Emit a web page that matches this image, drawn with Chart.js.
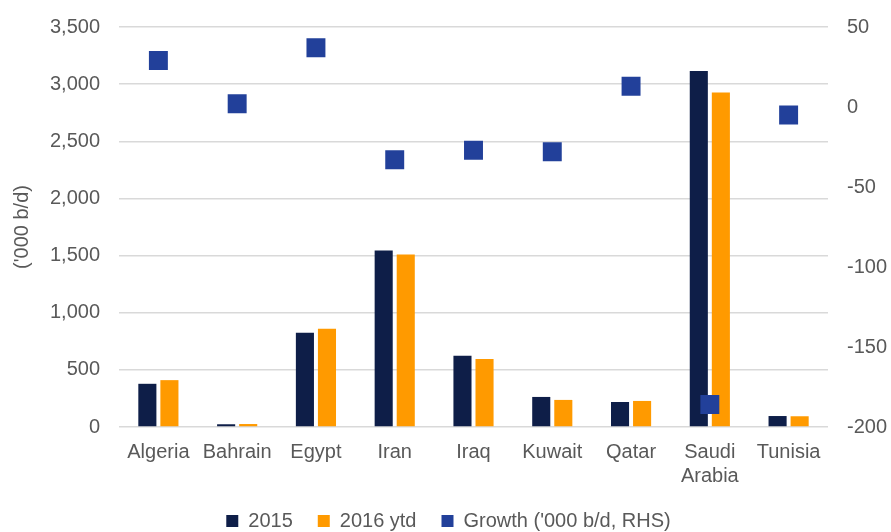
<!DOCTYPE html>
<html>
<head>
<meta charset="utf-8">
<script src="https://cdn.jsdelivr.net/npm/chart.js@4/dist/chart.umd.min.js"></script>
<style>
    html, body { margin: 0; padding: 0; background: #fff; }
    #chart { display: block; }
</style>
</head>
<body>
<canvas id="chart" width="891" height="532"></canvas>
<script>
// ============================
// Data
// ============================

const countries = ['Algeria', 'Bahrain', 'Egypt', 'Iran', 'Iraq', 'Kuwait', 'Qatar', ['Saudi', 'Arabia'], 'Tunisia'];
const output2015 = [378, 24, 825, 1545, 623, 263, 219, 3114, 96];
const output2016ytd = [410, 26, 860, 1510, 596, 237, 228, 2927, 94];
const growth = [29, 2, 37, -33, -27, -28, 13, -186, -5];

const leftTicks = { min: 0, max: 3500, step: 500 };
const rightTicks = { min: -200, max: 50, step: 50 };

// ============================
// Chart
// ============================

const textColor = '#595959';
const gridColor = '#d9d9d9';
const font = { family: '"Liberation Sans", Arial, sans-serif', size: 20 };

Chart.defaults.font.family = font.family;
Chart.defaults.font.size = font.size;
Chart.defaults.color = textColor;

const ctx = document.getElementById('chart').getContext('2d');

new Chart(ctx, {
    type: 'bar',
    data: {
        labels: countries,
        datasets: [
            {
                label: '2015',
                data: output2015,
                backgroundColor: '#0e1e48',
                borderWidth: 0,
                yAxisID: 'y',
                order: 2
            },
            {
                label: '2016 ytd',
                data: output2016ytd,
                backgroundColor: '#ff9a00',
                borderWidth: 0,
                yAxisID: 'y',
                order: 2
            },
            {
                type: 'line',
                label: "Growth ('000 b/d, RHS)",
                data: growth,
                showLine: false,
                pointStyle: 'rect',
                pointRadius: 13.4,
                pointHoverRadius: 13.4,
                backgroundColor: '#22409a',
                borderColor: '#22409a',
                pointBorderWidth: 0,
                borderWidth: 0,
                yAxisID: 'y1',
                order: 1
            }
        ]
    },
    options: {
        responsive: false,
        animation: false,
        categoryPercentage: 0.56,
        barPercentage: 0.82,
        layout: {
            padding: { left: 6, right: 0, top: 27, bottom: -9 }
        },
        scales: {
            x: {
                grid: { display: false },
                border: { display: false },
                ticks: {
                    color: textColor,
                    padding: 5,
                    maxRotation: 0,
                    autoSkip: false
                },
                afterFit: scale => { scale.height = 59; }
            },
            y: {
                position: 'left',
                min: leftTicks.min,
                max: leftTicks.max,
                ticks: {
                    stepSize: leftTicks.step,
                    color: textColor,
                    padding: 3,
                    callback: v => v.toLocaleString('en-US')
                },
                grid: {
                    color: gridColor,
                    lineWidth: 1.5,
                    drawTicks: true,
                    tickLength: 16,
                    tickColor: 'rgba(0,0,0,0)'
                },
                border: { display: false },
                title: {
                    display: true,
                    text: "('000 b/d)",
                    color: textColor,
                    padding: { top: 4, bottom: 4 }
                },
                afterFit: scale => { scale.width = 113; }
            },
            y1: {
                position: 'right',
                min: rightTicks.min,
                max: rightTicks.max,
                ticks: {
                    stepSize: rightTicks.step,
                    color: textColor,
                    padding: 11
                },
                grid: { display: false },
                border: { display: false },
                afterFit: scale => { scale.width = 63; }
            }
        },
        plugins: {
            legend: {
                position: 'bottom',
                labels: {
                    boxWidth: 12,
                    boxHeight: 12,
                    padding: 25,
                    color: textColor,
                    sort: (a, b) => a.datasetIndex - b.datasetIndex
                }
            },
            tooltip: { enabled: false }
        }
    }
});
</script>
</body>
</html>
